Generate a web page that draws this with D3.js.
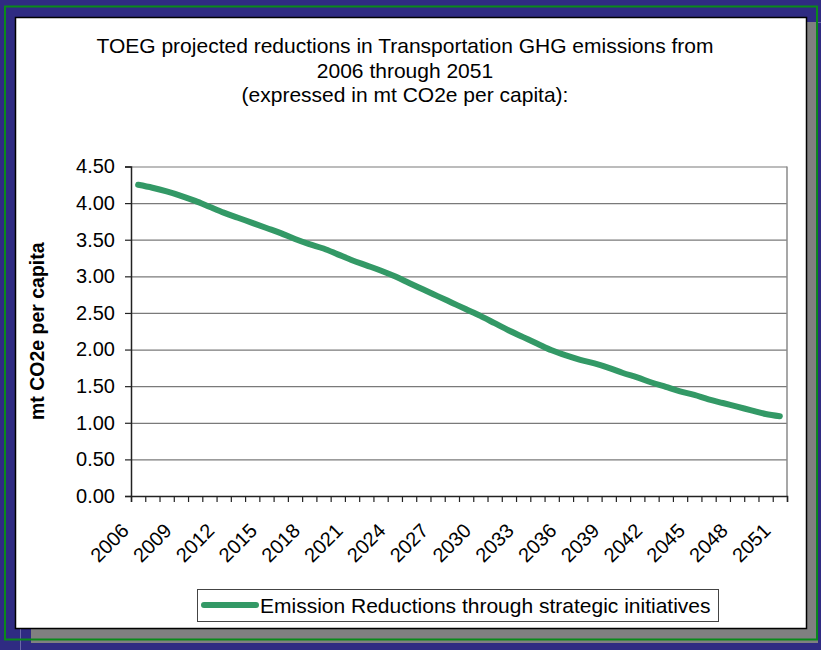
<!DOCTYPE html>
<html lang="en">
<head>
  <meta charset="UTF-8">
  <title>TOEG transportation GHG</title>
  <style>
    body { margin: 0; background: #2f2b82; }
    svg { display: block; font-family: "Liberation Sans", Arial, sans-serif; }
  </style>
</head>
<body>
  <div id="chart"></div>
<script src="https://cdn.jsdelivr.net/npm/d3@7"></script>
<script>
  var years = d3.range(2006, 2052)
  var emissions = [4.25, 4.21, 4.16, 4.10, 4.03, 3.95, 3.87, 3.80, 3.73, 3.66,
                   3.59, 3.51, 3.44, 3.38, 3.30, 3.22, 3.15, 3.08, 3.00, 2.91,
                   2.82, 2.73, 2.64, 2.55, 2.46, 2.36, 2.26, 2.17, 2.08, 1.99,
                   1.92, 1.86, 1.81, 1.75, 1.68, 1.62, 1.55, 1.49, 1.43, 1.38,
                   1.32, 1.27, 1.22, 1.17, 1.12, 1.09]
  var yTicks = [0, 0.5, 1, 1.5, 2, 2.5, 3, 3.5, 4, 4.5]
  var labelYears = years.filter((d, i) => i % 3 == 0)
  var titleLines = ['TOEG projected reductions in Transportation GHG emissions from',
                    '2006 through 2051',
                    '(expressed in mt CO2e per capita):']
  var seriesName = 'Emission Reductions through strategic initiatives'
  var yTitle = 'mt CO2e per capita'

  var width = 821
  var height = 650
  var plot = {left: 131, right: 787, top: 166.5, bottom: 496}
  var green = '#339966'

  var svg = d3.select('#chart').append('svg')
    .attr('width', width)
    .attr('height', height)

  // slide background + frame
  svg.append('rect').attr('width', width).attr('height', height).attr('fill', '#2f2b82')
  svg.append('line').attr('x1', 20.5).attr('x2', 20.5).attr('y1', 600).attr('y2', height)
    .attr('stroke', '#6a68a8').attr('stroke-width', 1)
  svg.append('line').attr('x1', 790).attr('x2', width).attr('y1', 22.5).attr('y2', 22.5)
    .attr('stroke', '#6a68a8').attr('stroke-width', 1)
  svg.append('rect').attr('x', 31).attr('y', 22).attr('width', 787).attr('height', 621)
    .attr('fill', '#808080')
  svg.append('rect').attr('x', 5).attr('y', 6.5).attr('width', 812).attr('height', 633)
    .attr('fill', 'none').attr('stroke', '#0a8a1a').attr('stroke-width', 2)
  svg.append('rect').attr('x', 15.5).attr('y', 17.5).attr('width', 791).attr('height', 611)
    .attr('fill', '#fff').attr('stroke', '#000').attr('stroke-width', 1.5)

  // title
  svg.append('text')
    .attr('x', 405).attr('y', 53)
    .attr('text-anchor', 'middle')
    .style('font-size', '21px')
    .selectAll('tspan')
    .data(titleLines)
    .enter()
    .append('tspan')
    .attr('x', 405)
    .attr('dy', (d, i) => i == 0 ? 0 : 24.5)
    .text(d => d)

  var x = d3.scaleBand().domain(years).range([plot.left, plot.right])
  var xTick = d3.scaleLinear().domain([0, years.length]).range([plot.left, plot.right])
  var y = d3.scaleLinear().domain([0, 4.5]).range([plot.bottom, plot.top])

  // gridlines
  svg.append('g')
    .attr('transform', `translate(${plot.left},0)`)
    .call(d3.axisLeft(y).tickValues(yTicks.slice(1)).tickSize(-(plot.right - plot.left)).tickFormat(''))
    .call(g => g.select('.domain').remove())
    .call(g => g.selectAll('line').attr('stroke', '#7a7a7a').attr('stroke-width', 1.2))
  svg.append('line')
    .attr('x1', plot.right).attr('x2', plot.right).attr('y1', plot.top).attr('y2', plot.bottom)
    .attr('stroke', '#8a8a8a').attr('stroke-width', 1.5)

  // y axis
  svg.append('g')
    .attr('transform', `translate(${plot.left},0)`)
    .call(d3.axisLeft(y).tickValues(yTicks).tickFormat(d3.format('.2f')).tickSize(6).tickPadding(10))
    .call(g => g.select('.domain').attr('stroke', '#222').attr('stroke-width', 1.5))
    .call(g => g.selectAll('line').attr('stroke', '#222').attr('stroke-width', 1.2))
    .call(g => g.selectAll('text').attr('fill', '#000').style('font-size', '20px')
      .style('font-family', '"Liberation Sans", Arial, sans-serif'))

  // x axis (ticks between categories)
  svg.append('g')
    .attr('transform', `translate(0,${plot.bottom})`)
    .call(d3.axisBottom(xTick).tickValues(d3.range(0, years.length + 1)).tickSize(6).tickFormat(''))
    .call(g => g.select('.domain').attr('stroke', '#222').attr('stroke-width', 1.5))
    .call(g => g.selectAll('line').attr('stroke', '#222').attr('stroke-width', 1.2))

  svg.append('g').selectAll('text')
    .data(labelYears)
    .enter()
    .append('text')
    .attr('transform', d => `translate(${x(d) + x.bandwidth() / 2 - 8},${plot.bottom + 36}) rotate(-45)`)
    .attr('text-anchor', 'end')
    .style('font-size', '20px')
    .text(d => d)

  // y title
  svg.append('text')
    .attr('transform', `translate(44,${(plot.top + plot.bottom) / 2}) rotate(-90)`)
    .attr('text-anchor', 'middle')
    .style('font-size', '19.5px')
    .style('font-weight', 'bold')
    .text(yTitle)

  // series
  var line = d3.line()
    .x((d, i) => x(years[i]) + x.bandwidth() / 2)
    .y(d => y(d))
    .curve(d3.curveMonotoneX)
  svg.append('path')
    .datum(emissions)
    .attr('d', line)
    .attr('fill', 'none')
    .attr('stroke', green)
    .attr('stroke-width', 6)
    .attr('stroke-linecap', 'round')
    .attr('stroke-linejoin', 'round')

  // legend
  var legend = svg.append('g')
  legend.append('rect')
    .attr('x', 197.5).attr('y', 589.5).attr('width', 521).attr('height', 32)
    .attr('fill', '#fff').attr('stroke', '#444').attr('stroke-width', 1)
  legend.append('line')
    .attr('x1', 204).attr('x2', 256).attr('y1', 605).attr('y2', 605)
    .attr('stroke', green).attr('stroke-width', 6).attr('stroke-linecap', 'round')
  legend.append('text')
    .attr('x', 260).attr('y', 612.5)
    .style('font-size', '21px')
    .text(seriesName)
</script>
</body>
</html>
